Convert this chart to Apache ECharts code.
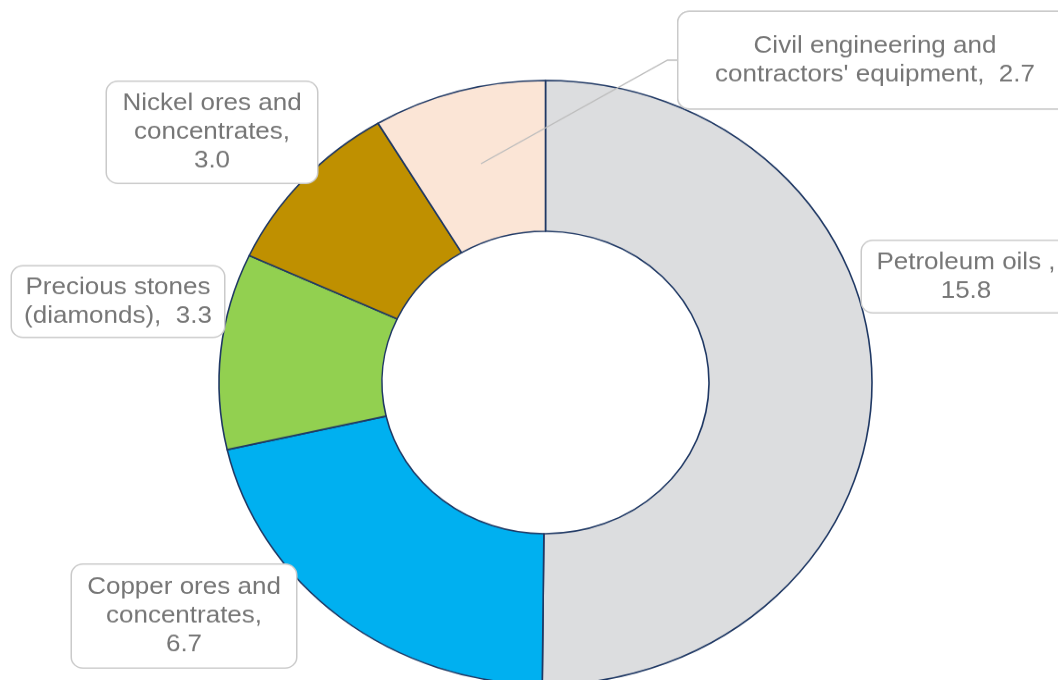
<!DOCTYPE html>
<html>
<head>
<meta charset="utf-8">
<script src="https://cdn.jsdelivr.net/npm/echarts@6/dist/echarts.min.js"></script>
<style>
  html, body { margin: 0; padding: 0; background: #ffffff; overflow: hidden; }
  #wrap { width: 1058px; height: 680px; overflow: hidden; position: relative; }
  /* The donut is drawn slightly flattened: render taller, then squeeze vertically */
  #chart { width: 1058px; height: 735px; transform: scaleY(0.925); transform-origin: 0 0; }
</style>
</head>
<body>
<div id="wrap"><div id="chart"></div></div>
<script>
// Export categories (label text, with line breaks as shown)
const categories = [
  'Petroleum oils ',
  'Copper ores and\nconcentrates',
  'Precious stones\n(diamonds)',
  'Nickel ores and\nconcentrates',
  'Civil engineering and\ncontractors\' equipment'
];
// Export values
const values = [15.8, 6.7, 3.3, 3.0, 2.7];
// Whether the value sits on its own line in the label
const valueOwnLine = [true, true, false, true, false];
// Which labels get a leader line
const withLeader = [false, false, false, false, true];

const colors = ['#DCDDDF', '#00B0F0', '#92D050', '#BF9000', '#FBE5D6'];

// Label box placement (centre x, centre y, box width, box height) in chart pixels
const labelBoxes = [
  [966, 299, 208, 77],
  [184, 666, 224, 111],
  [118, 326, 212, 76],
  [212, 143, 210, 109],
  [875, 65, 393, 104]
];
const lineH = 31;
const pieCenter = [545.5, 413.5];
const pieRadius = [163.5, 326.5];

const chart = echarts.init(document.getElementById('chart'), null, { renderer: 'canvas' });

function labelText(i) {
  return categories[i] + ',' + (valueOwnLine[i] ? '\n' : '  ') + values[i].toFixed(1);
}

const baseLabel = {
  show: true,
  position: 'outside',
  fontFamily: 'Liberation Sans, Arial, sans-serif',
  fontSize: 26,
  lineHeight: lineH,
  color: '#767676',
  align: 'center',
  backgroundColor: '#ffffff',
  borderColor: '#CACACA',
  borderWidth: 1.5,
  borderRadius: 11,
  formatter: (p) => labelText(p.dataIndex)
};

function itemLabel(i) {
  const lines = categories[i].split('\n').length + (valueOwnLine[i] ? 1 : 0);
  const [, , bw, bh] = labelBoxes[i];
  const vpad = Math.max(0, (bh - lines * lineH) / 2);
  return { width: bw - 8, padding: [vpad, 4, vpad, 4] };
}

function layout(params) {
  const i = params.dataIndex;
  const [cx, cy, bw] = labelBoxes[i];
  const out = { x: cx, y: cy, align: 'center', verticalAlign: 'middle' };
  if (withLeader[i]) {
    const left = cx - bw / 2;
    out.labelLinePoints = [[481, 177], [left - 11, cy], [left, cy]];
  }
  return out;
}

// Coloured donut with its labels
const mainData = categories.map((name, i) => ({
  name: name,
  value: values[i],
  itemStyle: { color: colors[i] },
  label: itemLabel(i)
}));

// Same slices, invisible, on top: carries the leader lines so they cross the ring
const leaderData = categories.map((name, i) => ({
  name: name,
  value: values[i],
  label: Object.assign({ show: withLeader[i] }, itemLabel(i)),
  labelLine: { show: withLeader[i] }
}));

chart.setOption({
  animation: false,
  backgroundColor: '#ffffff',
  series: [{
    type: 'pie',
    z: 2,
    center: pieCenter,
    radius: pieRadius,
    startAngle: 90,
    clockwise: true,
    avoidLabelOverlap: false,
    itemStyle: { borderColor: '#1F3864', borderWidth: 1.6 },
    emphasis: { disabled: true },
    label: baseLabel,
    labelLine: { show: false },
    labelLayout: layout,
    data: mainData
  }, {
    type: 'pie',
    z: 5,
    silent: true,
    center: pieCenter,
    radius: pieRadius,
    startAngle: 90,
    clockwise: true,
    avoidLabelOverlap: false,
    itemStyle: { color: 'rgba(0,0,0,0)', borderWidth: 0 },
    emphasis: { disabled: true },
    label: baseLabel,
    labelLine: { show: true, lineStyle: { color: '#BDBDBD', width: 1.4 } },
    labelLayout: layout,
    data: leaderData
  }]
});
</script>
</body>
</html>
